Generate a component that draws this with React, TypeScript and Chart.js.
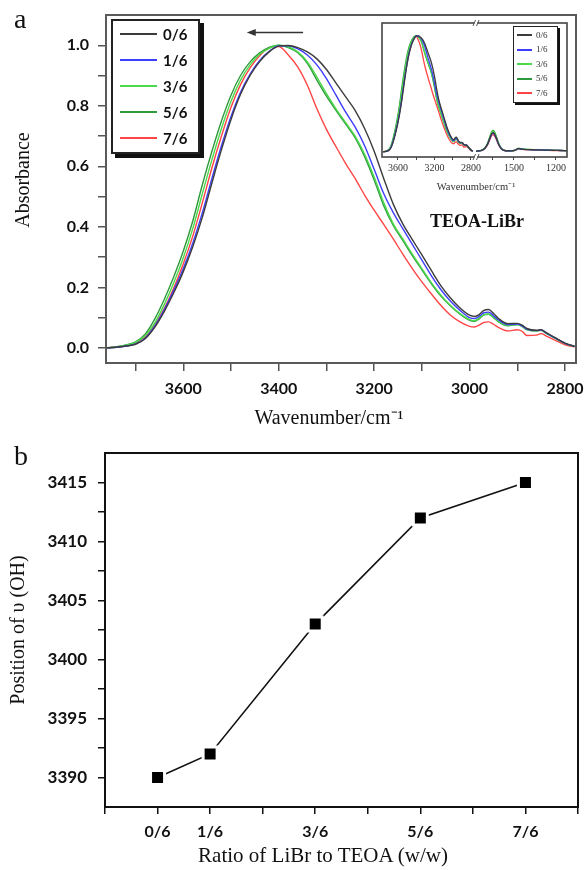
import React, { useEffect, useRef } from 'react';
import { Chart, registerables } from 'chart.js';

Chart.register(...registerables);

// ---------------- Panel a: FTIR spectra (main) ----------------
const WAVENUMBER = [
  3762, 3740, 3720, 3700, 3680, 3660, 3640, 3620, 3600, 3580, 3560, 3540, 3520, 3500, 3480, 3460, 3440, 3420, 3400,
  3380, 3360, 3340, 3320, 3300, 3280, 3260, 3240, 3220, 3200, 3180, 3160, 3140, 3120, 3100, 3080, 3060, 3040, 3020, 3000,
  2990, 2980, 2970, 2960, 2950, 2940, 2920, 2900, 2890, 2880, 2860, 2850, 2840, 2820, 2800, 2780,
];
const ABS_0_6 = [
  0.000, 0.002, 0.006, 0.012, 0.030, 0.068, 0.120, 0.182, 0.252, 0.335, 0.432, 0.545, 0.655, 0.755, 0.838, 0.900, 0.946, 0.978, 0.997,
  0.999, 0.992, 0.978, 0.955, 0.920, 0.875, 0.830, 0.785, 0.725, 0.650, 0.560, 0.475, 0.410, 0.358, 0.307, 0.255, 0.205, 0.165, 0.132, 0.108,
  0.104, 0.110, 0.124, 0.127, 0.114, 0.098, 0.080, 0.081, 0.075, 0.064, 0.058, 0.060, 0.051, 0.033, 0.016, 0.005,
];
const ABS_1_6 = [
  0.000, 0.002, 0.006, 0.013, 0.032, 0.072, 0.126, 0.190, 0.262, 0.347, 0.447, 0.560, 0.668, 0.765, 0.845, 0.905, 0.950, 0.980, 0.998,
  0.998, 0.988, 0.968, 0.935, 0.890, 0.835, 0.780, 0.730, 0.668, 0.590, 0.510, 0.447, 0.394, 0.342, 0.290, 0.238, 0.192, 0.154, 0.124, 0.100,
  0.097, 0.104, 0.116, 0.118, 0.106, 0.093, 0.077, 0.079, 0.073, 0.062, 0.057, 0.059, 0.050, 0.032, 0.015, 0.005,
];
const ABS_3_6 = [
  0.000, 0.003, 0.009, 0.018, 0.040, 0.082, 0.143, 0.215, 0.298, 0.395, 0.510, 0.622, 0.725, 0.815, 0.885, 0.935, 0.970, 0.990, 1.000,
  0.995, 0.978, 0.945, 0.895, 0.840, 0.790, 0.745, 0.700, 0.640, 0.565, 0.480, 0.410, 0.360, 0.310, 0.262, 0.215, 0.174, 0.140, 0.113, 0.093,
  0.090, 0.098, 0.110, 0.112, 0.101, 0.088, 0.074, 0.077, 0.071, 0.060, 0.056, 0.058, 0.049, 0.031, 0.015, 0.005,
];
const ABS_5_6 = [
  0.000, 0.004, 0.010, 0.020, 0.045, 0.095, 0.160, 0.235, 0.320, 0.420, 0.540, 0.650, 0.750, 0.835, 0.900, 0.945, 0.975, 0.993, 1.000,
  0.992, 0.975, 0.940, 0.885, 0.832, 0.785, 0.740, 0.695, 0.632, 0.555, 0.470, 0.405, 0.355, 0.305, 0.258, 0.212, 0.171, 0.138, 0.111, 0.091,
  0.088, 0.096, 0.109, 0.111, 0.100, 0.087, 0.073, 0.077, 0.071, 0.060, 0.056, 0.058, 0.049, 0.031, 0.015, 0.005,
];
const ABS_7_6 = [
  0.000, 0.003, 0.008, 0.016, 0.035, 0.075, 0.130, 0.198, 0.278, 0.370, 0.480, 0.595, 0.700, 0.795, 0.870, 0.925, 0.965, 0.992, 0.996,
  0.968, 0.928, 0.868, 0.790, 0.722, 0.665, 0.610, 0.560, 0.505, 0.455, 0.408, 0.360, 0.310, 0.262, 0.218, 0.178, 0.140, 0.108, 0.086, 0.071,
  0.069, 0.075, 0.084, 0.086, 0.078, 0.068, 0.056, 0.060, 0.055, 0.041, 0.042, 0.047, 0.040, 0.025, 0.010, 0.003,
];

// ---------------- Panel a inset: low-wavenumber part ----------------
const INSET_WAVENUMBER = [1771, 1740, 1710, 1690, 1675, 1660, 1650, 1640, 1625, 1610, 1590, 1560, 1520, 1490, 1470, 1455, 1430, 1400, 1340, 1280, 1220, 1170, 1121];
const INSET_0_6 = [0.004, 0.009, 0.027, 0.062, 0.107, 0.152, 0.165, 0.156, 0.116, 0.067, 0.027, 0.009, 0.008, 0.014, 0.028, 0.026, 0.021, 0.019, 0.017, 0.015, 0.012, 0.011, 0.010];
const INSET_1_6 = [0.004, 0.009, 0.026, 0.060, 0.104, 0.147, 0.160, 0.151, 0.113, 0.065, 0.026, 0.009, 0.008, 0.014, 0.027, 0.026, 0.020, 0.019, 0.017, 0.015, 0.012, 0.011, 0.010];
const INSET_3_6 = [0.004, 0.010, 0.029, 0.067, 0.115, 0.163, 0.178, 0.168, 0.125, 0.072, 0.029, 0.010, 0.008, 0.015, 0.029, 0.027, 0.021, 0.020, 0.018, 0.016, 0.013, 0.012, 0.010];
const INSET_5_6 = [0.004, 0.010, 0.030, 0.070, 0.120, 0.170, 0.185, 0.175, 0.130, 0.075, 0.030, 0.010, 0.008, 0.015, 0.030, 0.028, 0.022, 0.020, 0.018, 0.016, 0.013, 0.012, 0.010];
const INSET_7_6 = [0.004, 0.009, 0.024, 0.056, 0.096, 0.136, 0.148, 0.140, 0.104, 0.060, 0.024, 0.009, 0.007, 0.013, 0.026, 0.025, 0.019, 0.018, 0.016, 0.014, 0.011, 0.010, 0.009];

const SERIES_LABELS = ['0/6', '1/6', '3/6', '5/6', '7/6'];
const SERIES_COLORS = ['#3c3c3c', '#3d3dff', '#4cd94c', '#2f9a3c', '#ff4545'];
const MAIN_SERIES = [ABS_0_6, ABS_1_6, ABS_3_6, ABS_5_6, ABS_7_6];
const INSET_SERIES = [INSET_0_6, INSET_1_6, INSET_3_6, INSET_5_6, INSET_7_6];

const ABS_TICKS = [0, 0.1, 0.2, 0.3, 0.4, 0.5, 0.6, 0.7, 0.8, 0.9, 1.0];
const ABS_TICK_LABELS = ['0.0', '', '0.2', '', '0.4', '', '0.6', '', '0.8', '', '1.0'];
const WN_TICKS = [2800, 2900, 3000, 3100, 3200, 3300, 3400, 3500, 3600, 3700];
const WN_TICK_LABELS = ['2800', '', '3000', '', '3200', '', '3400', '', '3600', ''];
const INSET_TICKS_HIGH = [2800, 3000, 3200, 3400, 3600];
const INSET_TICK_LABELS_HIGH = ['2800', '', '3200', '', '3600'];
const INSET_TICKS_LOW = [1200, 1350, 1500, 1650];
const INSET_TICK_LABELS_LOW = ['1200', '', '1500', ''];

const SHIFT_ARROW = { from: 3349, to: 3467, y: 1.042 };

// ---------------- Panel b: OH band position ----------------
const RATIO_NUMERATOR = [0, 1, 3, 5, 7];
const RATIO_LABELS = ['0/6', '1/6', '3/6', '5/6', '7/6'];
const OH_POSITION = [3390, 3392, 3403, 3412, 3415];
const RATIO_TICKS = [-1, 0, 1, 2, 3, 4, 5, 6, 7, 8];
const OH_TICKS = [3390, 3392.5, 3395, 3397.5, 3400, 3402.5, 3405, 3407.5, 3410, 3412.5, 3415];
const OH_TICK_LABELS = ['3390', '', '3395', '', '3400', '', '3405', '', '3410', '', '3415'];

// ---------------- helpers ----------------
const SERIF = 'Liberation Serif';

function fixedTicks(values: number[]) {
  return (scale: any) => {
    scale.ticks = values.map((value) => ({ value }));
  };
}
function fitBox(size: { width?: number; height?: number }) {
  return (scale: any) => {
    if (size.width !== undefined) scale.width = size.width;
    if (size.height !== undefined) scale.height = size.height;
    scale.paddingLeft = 0;
    scale.paddingRight = 0;
    scale.paddingTop = 0;
    scale.paddingBottom = 0;
  };
}

const framePlugin = {
  id: 'frame',
  afterDraw(chart: any, _args: any, opts: any) {
    const { ctx, chartArea } = chart;
    const { left, top, right, bottom } = chartArea;
    ctx.save();
    ctx.strokeStyle = opts.color || '#000';
    ctx.lineWidth = opts.width || 1;
    ctx.strokeRect(left, top, right - left, bottom - top);
    if (opts.breakScale && chart.scales[opts.breakScale]) {
      const bx = chart.scales[opts.breakScale].right;
      ctx.lineWidth = 0.9;
      for (const yy of [top, bottom]) {
        ctx.fillStyle = '#fff';
        ctx.fillRect(bx - 1.5, yy - 2, 3, 4);
        ctx.beginPath();
        ctx.moveTo(bx - 3, yy + 3);
        ctx.lineTo(bx - 0.5, yy - 3);
        ctx.moveTo(bx + 0.5, yy + 3);
        ctx.lineTo(bx + 3, yy - 3);
        ctx.stroke();
      }
    }
    if (opts.arrow) {
      const xs = chart.scales.x;
      const ys = chart.scales.y;
      const xFrom = xs.getPixelForValue(opts.arrow.from);
      const xTo = xs.getPixelForValue(opts.arrow.to);
      const y = ys.getPixelForValue(opts.arrow.y);
      ctx.strokeStyle = '#333';
      ctx.fillStyle = '#333';
      ctx.lineWidth = 1.5;
      ctx.beginPath();
      ctx.moveTo(xFrom, y);
      ctx.lineTo(xTo + 6, y);
      ctx.stroke();
      ctx.beginPath();
      ctx.moveTo(xTo, y);
      ctx.lineTo(xTo + 9, y - 3.5);
      ctx.lineTo(xTo + 9, y + 3.5);
      ctx.closePath();
      ctx.fill();
    }
    ctx.restore();
  },
};

function LegendBox(p: {
  left: number; top: number; width: number; height: number; rowH: number; padTop: number; padLeft: number;
  lineLen: number; lineW: number; gap: number; font: string; border: number; shadow: number; color: string;
}) {
  return (
    <div
      style={{
        position: 'absolute', left: p.left, top: p.top, width: p.width, height: p.height, boxSizing: 'border-box',
        border: `${p.border}px solid #222`, boxShadow: `${p.shadow}px ${p.shadow}px 0 #111`, background: '#fff',
        paddingTop: p.padTop,
      }}
    >
      {SERIES_LABELS.map((lab, i) => (
        <div key={lab} style={{ display: 'flex', alignItems: 'center', height: p.rowH, paddingLeft: p.padLeft }}>
          <span style={{ display: 'inline-block', width: p.lineLen, height: p.lineW, background: SERIES_COLORS[i] }} />
          <span style={{ marginLeft: p.gap, font: p.font, color: p.color, lineHeight: 1 }}>{lab}</span>
        </div>
      ))}
    </div>
  );
}

function AxisTitle(p: { cx: number; cy: number; text: string; size: number; rotate?: boolean }) {
  return (
    <div
      style={{
        position: 'absolute', left: p.cx - 150, top: p.cy - p.size * 0.6, width: 300, height: p.size * 1.2,
        textAlign: 'center', font: `${p.size}px "${SERIF}"`, lineHeight: `${p.size * 1.2}px`, color: '#111',
        whiteSpace: 'nowrap', transform: p.rotate ? 'rotate(-90deg)' : undefined, transformOrigin: '50% 50%',
      }}
    >
      {p.text}
    </div>
  );
}

export default function App() {
  const refA = useRef<HTMLCanvasElement>(null);
  const refInset = useRef<HTMLCanvasElement>(null);
  const refB = useRef<HTMLCanvasElement>(null);

  useEffect(() => {
    const charts: Chart[] = [];
    const grey = '#555';

    // ---- panel a main ----
    charts.push(
      new Chart(refA.current as HTMLCanvasElement, {
        type: 'line',
        data: {
          datasets: MAIN_SERIES.map((vals, s) => ({
            label: SERIES_LABELS[s],
            data: WAVENUMBER.map((w, i) => ({ x: w, y: vals[i] })),
            borderColor: SERIES_COLORS[s],
            borderWidth: 1.4,
            pointRadius: 0,
            cubicInterpolationMode: 'monotone' as const,
            fill: false,
          })),
        },
        options: {
          animation: false,
          responsive: false,
          devicePixelRatio: 1,
          layout: { autoPadding: false, padding: { left: 0, top: 15, right: 9, bottom: 0 } },
          plugins: {
            legend: { display: false },
            tooltip: { enabled: false },
            frame: { color: '#5a5a5a', width: 2, arrow: SHIFT_ARROW },
          } as any,
          scales: {
            x: {
              type: 'linear',
              reverse: true,
              min: 2777,
              max: 3762,
              afterBuildTicks: fixedTicks(WN_TICKS),
              afterFit: fitBox({ height: 67 }),
              ticks: {
                autoSkip: false,
                maxRotation: 0,
                padding: 8,
                color: '#111',
                font: { family: 'Lato', size: 16, weight: 'bold' },
                callback: (_v: any, i: number) => WN_TICK_LABELS[i],
              },
              grid: { drawOnChartArea: false, drawTicks: true, tickLength: 8, color: grey, lineWidth: 1.5 },
              border: { display: false },
              title: { display: false },
            },
            y: {
              type: 'linear',
              min: -0.05,
              max: 1.1,
              afterBuildTicks: fixedTicks(ABS_TICKS),
              afterFit: fitBox({ width: 106 }),
              ticks: {
                padding: 9,
                color: '#111',
                font: { family: 'Lato', size: 16, weight: 'bold' },
                callback: (_v: any, i: number) => ABS_TICK_LABELS[i],
              },
              grid: { drawOnChartArea: false, drawTicks: true, tickLength: 8, color: grey, lineWidth: 1.5 },
              border: { display: false },
              title: { display: false },
            },
          },
        } as any,
        plugins: [framePlugin],
      })
    );

    // ---- panel a inset ----
    const insetDatasets: any[] = [];
    MAIN_SERIES.forEach((vals, s) => {
      insetDatasets.push({
        label: SERIES_LABELS[s],
        xAxisID: 'x1',
        yAxisID: 'y',
        data: WAVENUMBER.map((w, i) => ({ x: w, y: vals[i] })),
        borderColor: SERIES_COLORS[s],
        borderWidth: 1.3,
        pointRadius: 0,
        cubicInterpolationMode: 'monotone',
      });
      insetDatasets.push({
        label: SERIES_LABELS[s] + ' low',
        xAxisID: 'x2',
        yAxisID: 'y',
        data: INSET_WAVENUMBER.map((w, i) => ({ x: w, y: INSET_SERIES[s][i] })),
        borderColor: SERIES_COLORS[s],
        borderWidth: 1.3,
        pointRadius: 0,
        cubicInterpolationMode: 'monotone',
      });
    });
    const insetAxis = (min: number, max: number, weight: number, ticks: number[], labels: string[]) => ({
      type: 'linear',
      position: 'bottom',
      stack: 'inset',
      stackWeight: weight,
      reverse: true,
      min,
      max,
      afterBuildTicks: fixedTicks(ticks),
      afterFit: fitBox({ height: 41 }),
      ticks: {
        autoSkip: false,
        maxRotation: 0,
        padding: 2,
        color: '#333',
        font: { family: SERIF, size: 10 },
        callback: (_v: any, i: number) => labels[i],
      },
      grid: { drawOnChartArea: false, drawTicks: true, tickLength: 3, color: '#444', lineWidth: 1 },
      border: { display: false },
      title: { display: false },
    });
    charts.push(
      new Chart(refInset.current as HTMLCanvasElement, {
        type: 'line',
        data: { datasets: insetDatasets },
        options: {
          animation: false,
          responsive: false,
          devicePixelRatio: 1,
          layout: { autoPadding: false, padding: { left: 10, top: 5, right: 11, bottom: 0 } },
          plugins: {
            legend: { display: false },
            tooltip: { enabled: false },
            frame: { color: '#444', width: 1.6, breakScale: 'x1' },
          } as any,
          scales: {
            x1: insetAxis(2745, 3775, 94, INSET_TICKS_HIGH, INSET_TICK_LABELS_HIGH),
            x2: insetAxis(1121, 1771, 91, INSET_TICKS_LOW, INSET_TICK_LABELS_LOW),
            y: { type: 'linear', display: false, min: -0.045, max: 1.11 },
          },
        } as any,
        plugins: [framePlugin],
      })
    );

    // ---- panel b ----
    charts.push(
      new Chart(refB.current as HTMLCanvasElement, {
        type: 'line',
        data: {
          datasets: [
            {
              label: 'Position of υ (OH)',
              data: RATIO_NUMERATOR.map((x, i) => ({ x, y: OH_POSITION[i] })),
              borderColor: '#111',
              borderWidth: 1.6,
              pointStyle: 'rect',
              pointRadius: 9.9,
              pointBackgroundColor: '#000',
              pointBorderColor: '#fff',
              pointBorderWidth: 3,
              tension: 0,
            },
          ],
        },
        options: {
          animation: false,
          responsive: false,
          devicePixelRatio: 1,
          layout: { autoPadding: false, padding: { left: 0, top: 23, right: 7, bottom: 0 } },
          plugins: {
            legend: { display: false },
            tooltip: { enabled: false },
            frame: { color: '#111', width: 2 },
          } as any,
          scales: {
            x: {
              type: 'linear',
              min: -1,
              max: 8,
              afterBuildTicks: fixedTicks(RATIO_TICKS),
              afterFit: fitBox({ height: 63 }),
              ticks: {
                autoSkip: false,
                maxRotation: 0,
                padding: 8,
                color: '#111',
                font: { family: 'Lato', size: 16, weight: 'bold' },
                callback: (v: any) => {
                  const k = RATIO_NUMERATOR.indexOf(Number(v));
                  return k >= 0 ? RATIO_LABELS[k] : '';
                },
              },
              grid: { drawOnChartArea: false, drawTicks: true, tickLength: 7, color: '#111', lineWidth: 1.5 },
              border: { display: false },
              title: { display: false },
            },
            y: {
              type: 'linear',
              min: 3387.5,
              max: 3417.5,
              afterBuildTicks: fixedTicks(OH_TICKS),
              afterFit: fitBox({ width: 105 }),
              ticks: {
                padding: 11,
                color: '#111',
                font: { family: 'Lato', size: 17, weight: 'bold' },
                callback: (_v: any, i: number) => OH_TICK_LABELS[i],
              },
              grid: { drawOnChartArea: false, drawTicks: true, tickLength: 7, color: '#111', lineWidth: 1.5 },
              border: { display: false },
              title: {
                display: true,
                text: 'Position of υ (OH)',
                color: '#111',
                font: { family: SERIF, size: 20 },
                padding: { top: 7, bottom: 0 },
              },
            },
          },
        } as any,
        plugins: [framePlugin],
      })
    );

    return () => charts.forEach((c) => c.destroy());
  }, []);

  return (
    <div style={{ position: 'absolute', left: 0, top: 0, width: 585, height: 870, background: '#fff', overflow: 'hidden' }}>
      <canvas ref={refA} width={585} height={430} style={{ position: 'absolute', left: 0, top: 0 }} />
      <canvas ref={refB} width={585} height={440} style={{ position: 'absolute', left: 0, top: 430 }} />
      <canvas ref={refInset} width={206} height={180} style={{ position: 'absolute', left: 372, top: 18 }} />

      <LegendBox
        left={111} top={19} width={89} height={135} rowH={26} padTop={0} padLeft={7}
        lineLen={37} lineW={2} gap={6} font="bold 15px Lato" border={2} shadow={4} color="#111"
      />
      <LegendBox
        left={513} top={26} width={45} height={77} rowH={14.5} padTop={1} padLeft={3}
        lineLen={15} lineW={1.6} gap={4} font={`9px "${SERIF}"`} border={1.5} shadow={2} color="#333"
      />

      <AxisTitle cx={329} cy={417} text="Wavenumber/cm⁻¹" size={20} />
      <AxisTitle cx={22} cy={180} text="Absorbance" size={20} rotate />
      <AxisTitle cx={323} cy={856} text="Ratio of LiBr to TEOA (w/w)" size={21} />

      <div style={{ position: 'absolute', left: 376, top: 181, width: 200, textAlign: 'center', font: `10.5px "${SERIF}"`, lineHeight: '12px', color: '#333' }}>
        Wavenumber/cm⁻¹
      </div>
      <div style={{ position: 'absolute', left: 430, top: 212, font: `bold 18px "${SERIF}"`, lineHeight: 1, color: '#111', whiteSpace: 'nowrap' }}>
        TEOA-LiBr
      </div>
      <div style={{ position: 'absolute', left: 14, top: 5, font: `28px "${SERIF}"`, lineHeight: 1, color: '#111' }}>a</div>
      <div style={{ position: 'absolute', left: 14, top: 442, font: `28px "${SERIF}"`, lineHeight: 1, color: '#111' }}>b</div>
    </div>
  );
}
